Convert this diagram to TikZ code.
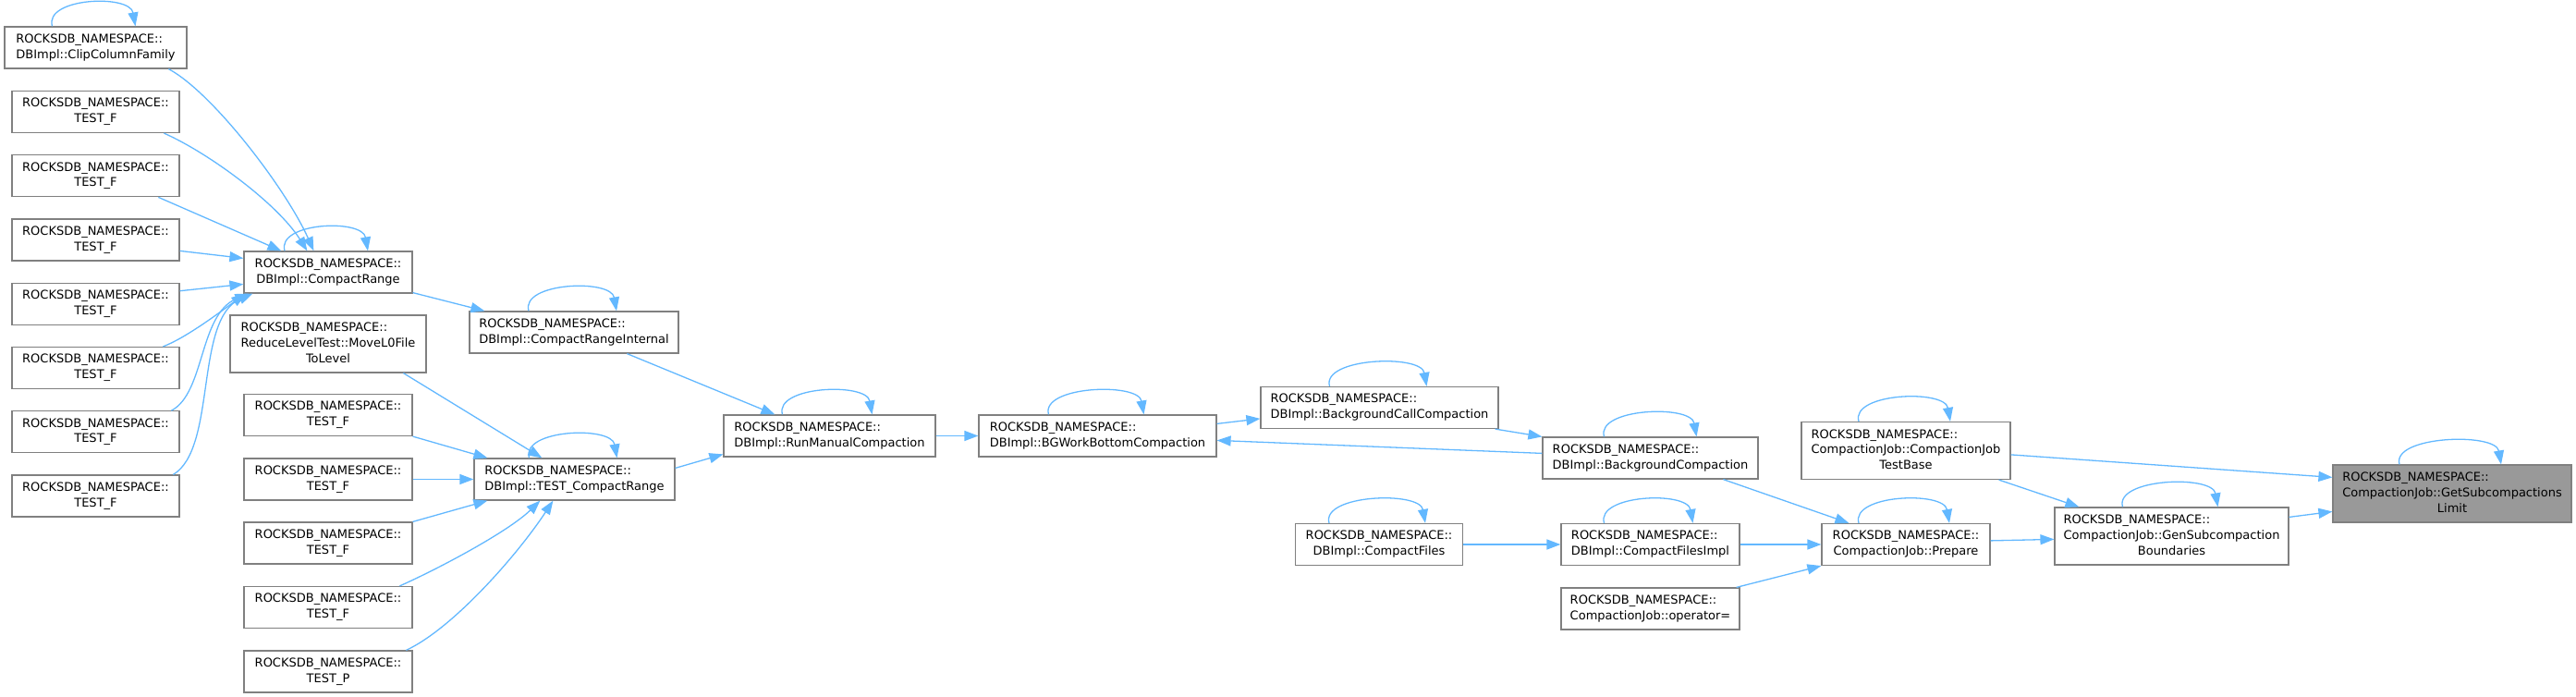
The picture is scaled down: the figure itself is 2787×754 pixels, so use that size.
\documentclass[tikz,border=0pt]{standalone}
\usepackage{fontspec}
\setmainfont{DejaVu Sans}
\usetikzlibrary{arrows.meta,calc}
\definecolor{edgeblue}{HTML}{63B8FF}
\definecolor{boxborder}{HTML}{808080}
\definecolor{rootfill}{HTML}{999999}
\newcommand\Ltwo[2]{\raisebox{-1.5pt}{\begin{tabular}{@{}l@{}}#1\\\multicolumn{1}{@{}c@{}}{#2}\end{tabular}}}
\newcommand\Lthree[3]{\raisebox{-1.5pt}{\begin{tabular}{@{}l@{}}#1\\#2\\\multicolumn{1}{@{}c@{}}{#3}\end{tabular}}}
\newcommand\RN{ROCKSDB\_NAMESPACE::}
\newcommand\sloop[3]{\draw[edge] ($(#1.north)+(#2,0)$) .. controls ($(#1.north)+(#2-9,-31)$) and ($(#1.north)+(#3-6,-35)$) .. ($(#1.north)+(#3,0)$);}
\begin{document}
\begin{tikzpicture}[x=1pt,y=-1pt,
  box/.style={draw=boxborder,line width=1.2pt,fill=white,inner sep=0pt,font=\fontsize{13}{16.7}\selectfont},
  two/.style={box,minimum height=45pt},
  three/.style={box,minimum height=62pt},
  root/.style={three,fill=rootfill},
  edge/.style={draw=edgeblue,line width=1.3pt,-{Triangle[length=15pt,width=11pt]}}]
\useasboundingbox (0,0) rectangle (2787,754);
% column 1
\node[two,minimum width=197pt] (clip) at (103.5,51.5) {\Ltwo{\RN}{DBImpl::ClipColumnFamily}};
\node[two,minimum width=181pt] (tf1) at (103.5,121) {\Ltwo{\RN}{TEST\_F}};
\node[two,minimum width=181pt] (tf2) at (103.5,190.3) {\Ltwo{\RN}{TEST\_F}};
\node[two,minimum width=181pt] (tf3) at (103.5,259.5) {\Ltwo{\RN}{TEST\_F}};
\node[two,minimum width=181pt] (tf4) at (103.5,328.8) {\Ltwo{\RN}{TEST\_F}};
\node[two,minimum width=181pt] (tf5) at (103.5,398) {\Ltwo{\RN}{TEST\_F}};
\node[two,minimum width=181pt] (tf6) at (103.5,467.3) {\Ltwo{\RN}{TEST\_F}};
\node[two,minimum width=181pt] (tf7) at (103.5,536.5) {\Ltwo{\RN}{TEST\_F}};
% column 2
\node[two,minimum width=182pt] (cr) at (355,294.5) {\Ltwo{\RN}{DBImpl::CompactRange}};
\node[three,minimum width=212pt] (movel0) at (355,372) {\Lthree{\RN}{ReduceLevelTest::MoveL0File}{ToLevel}};
\node[two,minimum width=182pt] (tg1) at (355,449) {\Ltwo{\RN}{TEST\_F}};
\node[two,minimum width=182pt] (tg2) at (355,518.5) {\Ltwo{\RN}{TEST\_F}};
\node[two,minimum width=182pt] (tg3) at (355,587.5) {\Ltwo{\RN}{TEST\_F}};
\node[two,minimum width=182pt] (tg4) at (355,657) {\Ltwo{\RN}{TEST\_F}};
\node[two,minimum width=182pt] (tp) at (355,726.5) {\Ltwo{\RN}{TEST\_P}};
% column 3
\node[two,minimum width=226pt] (cri) at (621,359.5) {\Ltwo{\RN}{DBImpl::CompactRangeInternal}};
\node[two,minimum width=217pt] (tcr) at (621.5,518.5) {\Ltwo{\RN}{DBImpl::TEST\_CompactRange}};
% others
\node[two,minimum width=229pt] (rm) at (897.5,471.5) {\Ltwo{\RN}{DBImpl::RunManualCompaction}};
\node[two,minimum width=257pt] (bg) at (1187.5,471.5) {\Ltwo{\RN}{DBImpl::BGWorkBottomCompaction}};
\node[two,minimum width=257pt] (bc) at (1492.5,441) {\Ltwo{\RN}{DBImpl::BackgroundCallCompaction}};
\node[two,minimum width=233pt] (bco) at (1785.5,495.5) {\Ltwo{\RN}{DBImpl::BackgroundCompaction}};
\node[two,minimum width=181pt] (cf) at (1492,589) {\Ltwo{\RN}{DBImpl::CompactFiles}};
\node[two,minimum width=193pt] (cfi) at (1785.5,589) {\Ltwo{\RN}{DBImpl::CompactFilesImpl}};
\node[two,minimum width=193pt] (op) at (1785.5,658.5) {\Ltwo{\RN}{CompactionJob::operator=}};
\node[two,minimum width=182pt] (prep) at (2062,589) {\Ltwo{\RN}{CompactionJob::Prepare}};
\node[three,minimum width=226pt] (tb) at (2062,487.5) {\Lthree{\RN}{CompactionJob::CompactionJob}{TestBase}};
\node[three,minimum width=253pt] (gs) at (2349.5,580) {\Lthree{\RN}{CompactionJob::GenSubcompaction}{Boundaries}};
\node[root,minimum width=258pt] (get) at (2653,534) {\Lthree{\RN}{CompactionJob::GetSubcompactions}{Limit}};
% self loops
\sloop{clip}{-47}{43}
\sloop{cr}{-47}{43}
\sloop{cri}{-49}{46}
\sloop{tcr}{-49}{46}
\sloop{rm}{-51}{46}
\sloop{bg}{-53}{50}
\sloop{bc}{-54}{51}
\sloop{bco}{-50}{50}
\sloop{cf}{-54}{50}
\sloop{cfi}{-50}{46}
\sloop{prep}{-51}{47}
\sloop{tb}{-51}{48}
\sloop{gs}{-53}{50}
\sloop{get}{-57}{53}
% edges into CompactRange
\draw[edge] ($(clip.south west)+(178,0)$) .. controls (230,100) and (310,205) .. ($(cr.north west)+(76,0)$);
\draw[edge] ($(tf1.south west)+(165,0)$) .. controls (225,165) and (300,220) .. ($(cr.north west)+(69,0)$);
\draw[edge] ($(tf2.south west)+(159,0)$) -- ($(cr.north west)+(41,0)$);
\draw[edge] ($(tf3.north east)+(0,35)$) -- ($(cr.north west)+(0,8)$);
\draw[edge] ($(tf4.north east)+(0,9)$) -- ($(cr.north west)+(0,36)$);
\draw[edge] ($(tf5.north west)+(164,0)$) .. controls (200,366) and (235,340) .. ($(cr.south west)+(2,0)$);
\draw[edge] ($(tf6.north west)+(173,0)$) .. controls (222,425) and (215,340) .. ($(cr.south west)+(6,0)$);
\draw[edge] ($(tf7.north west)+(175,0)$) .. controls (235,485) and (210,345) .. ($(cr.south west)+(10,0)$);
% CompactRange chain
\draw[edge] ($(cr.south east)+(0,-1)$) -- ($(cri.north west)+(17,0)$);
\draw[edge] ($(cri.south west)+(171,0)$) -- ($(rm.north west)+(56,0)$);
% into TEST_CompactRange
\draw[edge] ($(movel0.south west)+(188,0)$) -- ($(tcr.north west)+(74,0)$);
\draw[edge] (tg1.south east) -- ($(tcr.north west)+(15,0)$);
\draw[edge] (tg2.east) -- (tcr.west);
\draw[edge] (tg3.north east) -- ($(tcr.south west)+(15,0)$);
\draw[edge] ($(tg4.north west)+(169,0)$) .. controls (475,615) and (550,575) .. ($(tcr.south west)+(72,0)$);
\draw[edge] ($(tp.north west)+(176,0)$) .. controls (490,680) and (560,600) .. ($(tcr.south west)+(86,0)$);
\draw[edge] ($(tcr.north east)+(0,11)$) -- ($(rm.north west)+(0,43)$);
% middle chain
\draw[edge] (rm.east) -- (bg.west);
\draw[edge] ($(bg.north east)+(0,10)$) -- ($(bc.north west)+(0,35)$);
\draw[edge] ($(bco.north west)+(0,18)$) -- ($(bg.north east)+(0,28)$);
\draw[edge] ($(bc.south east)+(-4,0)$) -- (bco.north west);
\draw[edge] (cf.east) -- (cfi.west);
\draw[edge] (cfi.east) -- (prep.west);
\draw[edge] ($(op.north east)+(-4,0)$) -- (prep.south west);
\draw[edge] ($(bco.south west)+(196,0)$) -- ($(prep.north west)+(30,0)$);
\draw[edge] ($(prep.north east)+(0,19)$) -- ($(gs.north west)+(0,35)$);
\draw[edge] ($(tb.south east)+(-13,0)$) -- ($(gs.north west)+(27,0)$);
\draw[edge] ($(tb.north east)+(0,36)$) -- ($(get.north west)+(0,14)$);
\draw[edge] ($(gs.north east)+(0,11)$) -- ($(get.north west)+(0,51)$);
\end{tikzpicture}
\end{document}
